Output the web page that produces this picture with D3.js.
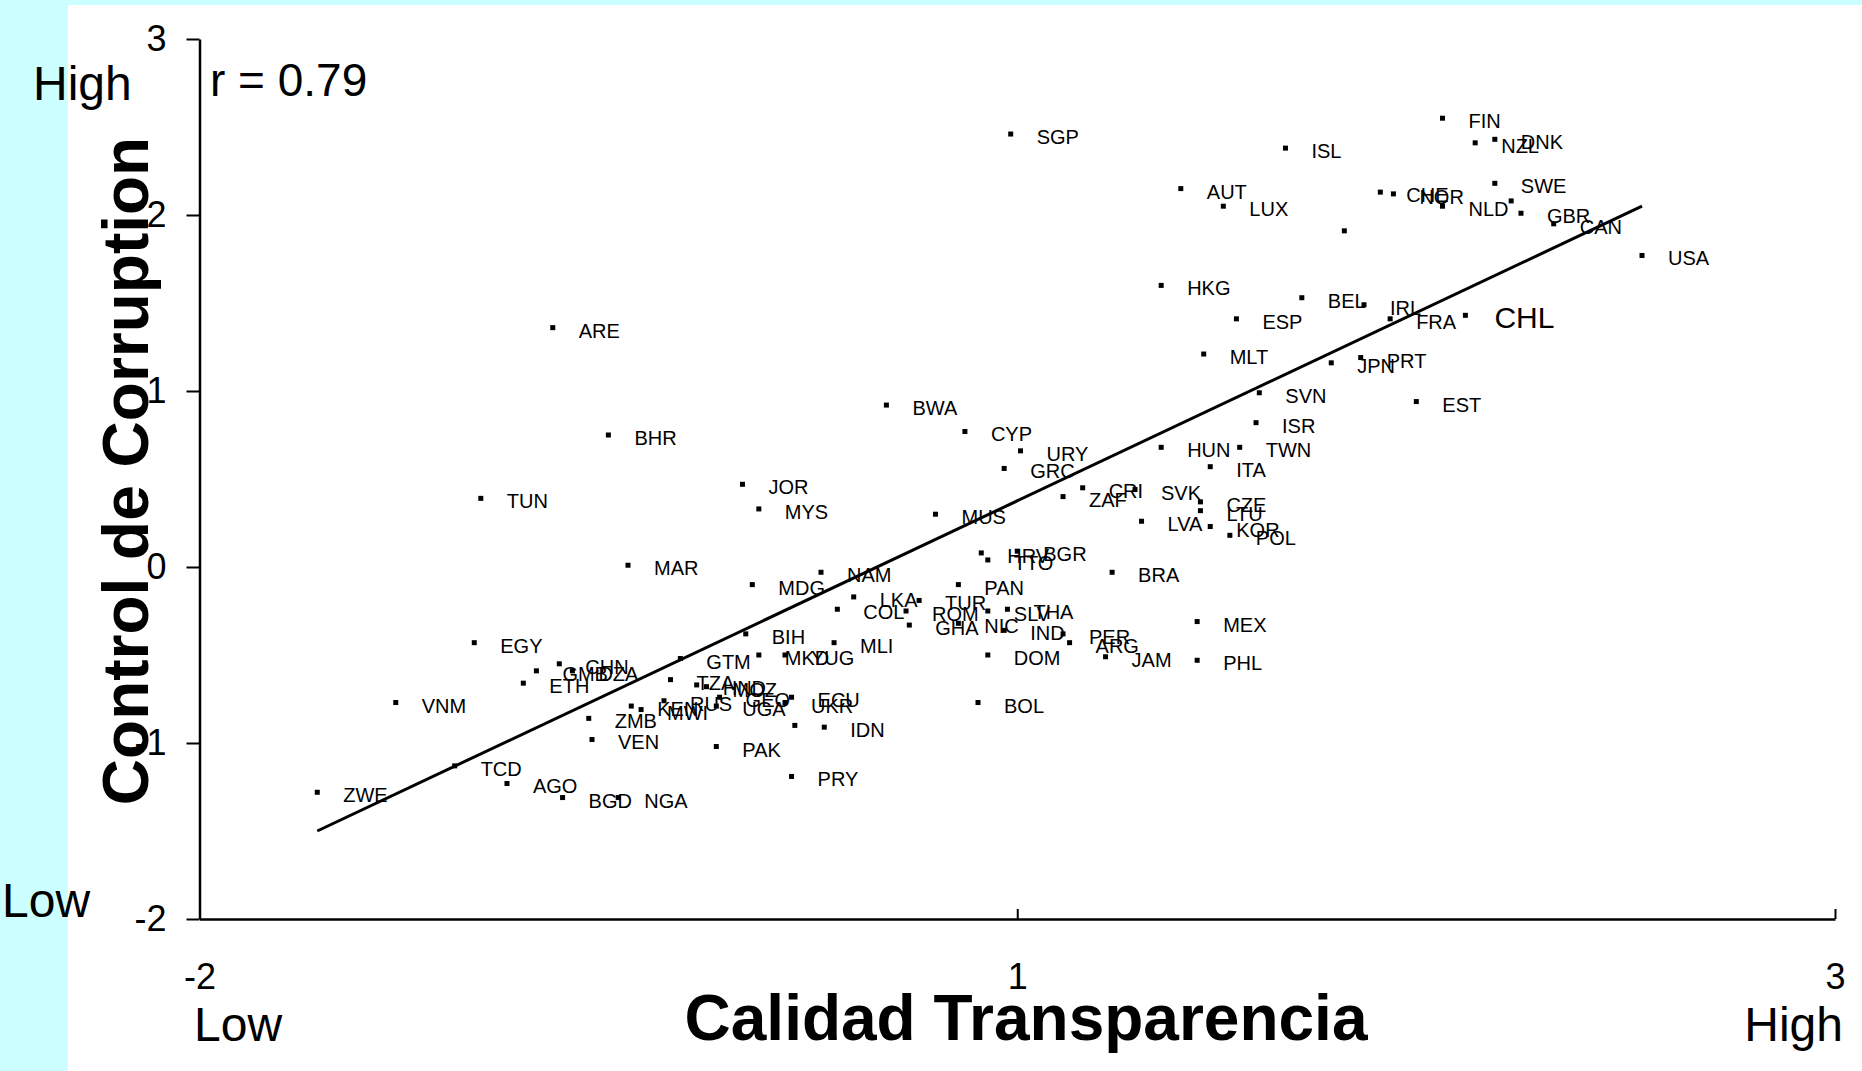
<!DOCTYPE html>
<html>
<head>
<meta charset="utf-8">
<script src="https://cdnjs.cloudflare.com/ajax/libs/d3/7.8.5/d3.min.js"></script>
<style>
body{margin:0;background:#fff;overflow:hidden;}
text{font-family:"Liberation Sans",Arial,sans-serif;fill:#000;}
</style>
</head>
<body>
<div id="plot"></div>
<script>
//chart data
var countries = ["SGP","ISL","AUT","LUX","CHE","NOR","","HKG","BEL","IRL",
	"ESP","FRA","MLT","JPN","PRT","FIN","NZL","DNK","SWE","NLD",
	"","GBR","CAN","USA","CHL","EST","SVN","ISR","HUN","TWN",
	"ITA","URY","GRC","ZAF","CRI","SVK","CZE","LTU","LVA","KOR",
	"POL","HRV","TTO","BGR","BRA","MEX","PHL","JAM","PER","ARG",
	"IND","SLV","THA","DOM","NIC","BWA","CYP","BHR","JOR","MYS",
	"MUS","MAR","MDG","NAM","PAN","LKA","COL","TUR","ROM","GHA",
	"BIH","MLI","GTM","MKD","YUG","CHN","GMB","ETH","DZA","TZA",
	"HND","MOZ","KEN","MWI","RUS","GEO","UGA","ECU","UKR","",
	"IDN","ZMB","VEN","PAK","PRY","BGD","NGA","BOL","EGY","VNM",
	"ZWE","TCD","AGO","TUN","ARE"];

var transparency = [0.48,1.32,1.00,1.13,1.61,1.65,1.50,0.94,1.37,1.56,
	1.17,1.64,1.07,1.46,1.55,1.80,1.90,1.96,1.96,1.80,
	2.01,2.04,2.14,2.41,1.87,1.72,1.24,1.23,0.94,1.18,
	1.09,0.51,0.46,0.64,0.70,0.86,1.06,1.06,0.88,1.09,
	1.15,0.39,0.41,0.50,0.79,1.05,1.05,0.77,0.64,0.66,
	0.46,0.41,0.47,0.41,0.32,0.10,0.34,-0.75,-0.34,-0.29,
	0.25,-0.69,-0.31,-0.10,0.32,0.00,-0.05,0.20,0.16,0.17,
	-0.33,-0.06,-0.53,-0.29,-0.21,-0.90,-0.97,-1.01,-0.86,-0.56,
	-0.48,-0.45,-0.68,-0.65,-0.58,-0.41,-0.42,-0.19,-0.21,-0.18,
	-0.09,-0.81,-0.80,-0.42,-0.19,-0.89,-0.72,0.38,-1.16,-1.40,
	-1.64,-1.22,-1.06,-1.14,-0.92];

var corruption = [2.46,2.38,2.15,2.05,2.13,2.12,1.91,1.60,1.53,1.49,
	1.41,1.41,1.21,1.16,1.19,2.55,2.41,2.43,2.18,2.05,
	2.08,2.01,1.95,1.77,1.43,0.94,0.99,0.82,0.68,0.68,
	0.57,0.66,0.56,0.40,0.45,0.44,0.37,0.32,0.26,0.23,
	0.18,0.08,0.04,0.09,-0.03,-0.31,-0.53,-0.51,-0.38,-0.43,
	-0.36,-0.25,-0.24,-0.50,-0.32,0.92,0.77,0.75,0.47,0.33,
	0.30,0.01,-0.10,-0.03,-0.10,-0.17,-0.24,-0.19,-0.25,-0.33,
	-0.38,-0.43,-0.52,-0.50,-0.50,-0.55,-0.59,-0.66,-0.59,-0.64,
	-0.67,-0.68,-0.79,-0.81,-0.76,-0.74,-0.79,-0.74,-0.77,-0.90,
	-0.91,-0.86,-0.98,-1.02,-1.19,-1.31,-1.31,-0.77,-0.43,-0.77,
	-1.28,-1.13,-1.23,0.39,1.36];

//fitted line, start and end
var fitX = [-1.64, 2.41];
var fitY = [-1.50, 2.05];

var xTickValues = [-2, 0.5, 3];
var xTickLabels = ["-2", "1", "3"];
var yTickValues = [-2, -1, 0, 1, 2, 3];
var yTickLabels = ["-2", "-1", "0", "1", "2", "3"];

var highlight = "CHL";
var rText = "r = 0.79";

//Set up the drawing environment here
var width = 1862, height = 1071;

var svg = d3.select('#plot')
	.append('svg')
	.attr('width', width)
	.attr('height', height);

svg.append('rect')
	.attr('width', width).attr('height', height)
	.style('fill', '#ccffff');
svg.append('rect')
	.attr('x', 68).attr('y', 5)
	.attr('width', width-68).attr('height', height-5)
	.style('fill', '#ffffff');

var x = d3.scaleLinear().domain([-2,3]).range([199.5,1835]);
var y = d3.scaleLinear().domain([-2,3]).range([919,39]);

//axes
var xAxis = d3.axisBottom(x)
	.tickValues(xTickValues)
	.tickFormat(function(d,i){ return xTickLabels[i]; })
	.tickSizeInner(-10)
	.tickSizeOuter(0)
	.tickPadding(44);

var yAxis = d3.axisLeft(y)
	.tickValues(yTickValues)
	.tickFormat(function(d,i){ return yTickLabels[i]; })
	.tickSizeInner(13)
	.tickSizeOuter(0)
	.tickPadding(20);

var gx = svg.append('g')
	.attr('transform','translate(0,'+y(-2)+')')
	.call(xAxis);
var gy = svg.append('g')
	.attr('transform','translate('+x(-2)+',0)')
	.call(yAxis);

[gx, gy].forEach(function(g){
	g.select('.domain').style('stroke','#000').style('stroke-width','2.5px');
	g.selectAll('.tick line').style('stroke','#000').style('stroke-width','2px');
	g.selectAll('.tick text')
		.style('font-family','"Liberation Sans",Arial,sans-serif')
		.style('font-size','36px')
		.style('fill','#000');
});

//fitted line
svg.append('line')
	.attr('x1', x(fitX[0])).attr('y1', y(fitY[0]))
	.attr('x2', x(fitX[1])).attr('y2', y(fitY[1]))
	.style('stroke','#000')
	.style('stroke-width','3px');

//points and labels
countries.forEach(function(c, i){
	var px = x(transparency[i]), py = y(corruption[i]);
	svg.append('rect')
		.attr('x', px-2.5).attr('y', py-2.5)
		.attr('width', 5).attr('height', 5)
		.style('fill','#000');
	if(c === '') return;
	var big = (c === highlight);
	svg.append('text')
		.attr('x', px + (big ? 29 : 26))
		.attr('y', py + (big ? 13 : 10))
		.style('font-size', big ? '30px' : '20px')
		.text(c);
});

//texts
svg.append('text').attr('x',210).attr('y',96)
	.style('font-size','46px').text(rText);

svg.append('text').attr('x',33).attr('y',100)
	.style('font-size','48px').text('High');
svg.append('text').attr('x',2).attr('y',917)
	.style('font-size','48px').text('Low');
svg.append('text').attr('x',194).attr('y',1041)
	.style('font-size','48px').text('Low');
svg.append('text').attr('x',1843).attr('y',1041)
	.attr('text-anchor','end')
	.style('font-size','48px').text('High');

svg.append('text')
	.attr('transform','translate(148,471) rotate(-90)')
	.attr('text-anchor','middle')
	.style('font-size','64px').style('font-weight','bold')
	.text('Control de Corruption');

svg.append('text')
	.attr('x',1026).attr('y',1040)
	.attr('text-anchor','middle')
	.style('font-size','64px').style('font-weight','bold')
	.text('Calidad Transparencia');
</script>
</body>
</html>
